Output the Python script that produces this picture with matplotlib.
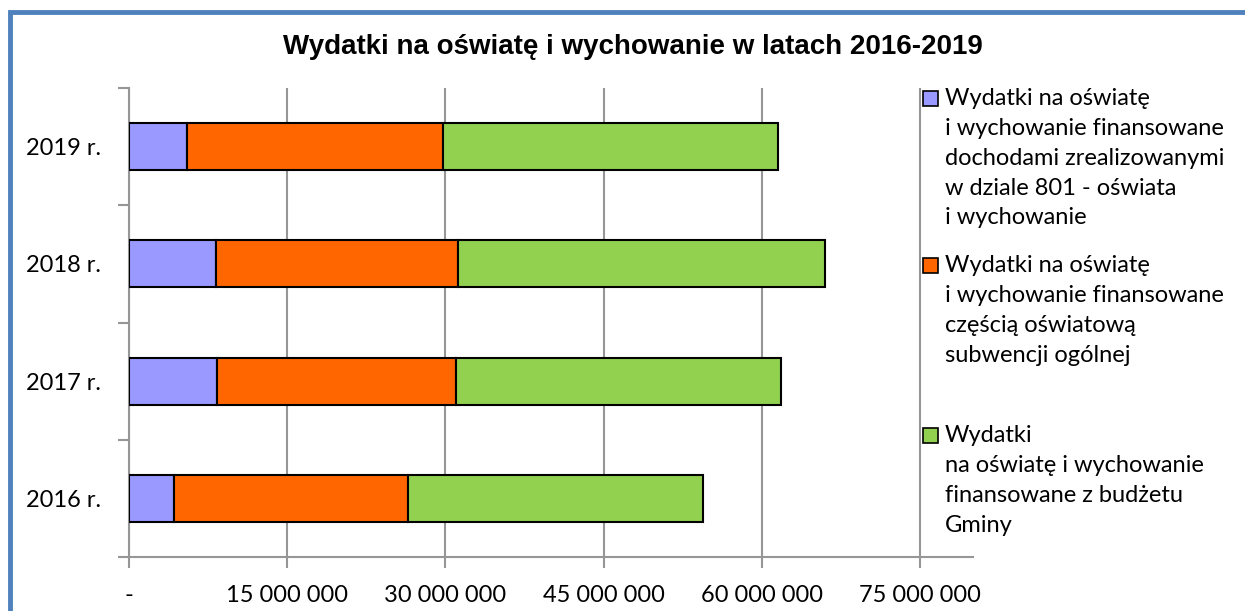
import numpy as np
import matplotlib.pyplot as plt
from matplotlib.patches import Rectangle
from matplotlib.ticker import FuncFormatter

years = ["2016 r.", "2017 r.", "2018 r.", "2019 r."]
dochody_801 = [4.3e6, 8.3e6, 8.2e6, 5.5e6]
subwencja = [22.1e6, 22.7e6, 23.0e6, 24.3e6]
budzet_gminy = [28.0e6, 30.8e6, 34.8e6, 31.7e6]
labels = [
    "Wydatki na oświatę\ni wychowanie finansowane\ndochodami zrealizowanymi\nw dziale 801 - oświata\ni wychowanie",
    "Wydatki na oświatę\ni wychowanie finansowane\nczęścią oświatową\nsubwencji ogólnej",
    "Wydatki\nna oświatę i wychowanie\nfinansowane z budżetu\nGminy",
]
colors = ["#9999FF", "#FF6600", "#92D050"]
ticks = [0, 15e6, 30e6, 45e6, 60e6, 75e6]

FONT = "Lato"
GRAY = "#969696"

fig = plt.figure(figsize=(12.45, 6.11), dpi=100)
ax = fig.add_axes([129 / 1245, 1 - 557 / 611, (973 - 129) / 1245, (557 - 88) / 611])

y = np.arange(len(years))
series = [dochody_801, subwencja, budzet_gminy]
left = np.zeros(len(years))
for vals, c in zip(series, colors):
    ax.barh(y, vals, left=left, height=0.4, color=c, edgecolor="black", linewidth=1.5, zorder=3)
    left += np.array(vals)

ax.set_xlim(0, 80e6)
ax.set_ylim(-0.5, len(years) - 0.5)
ax.set_xticks(ticks)
ax.xaxis.set_major_formatter(FuncFormatter(
    lambda v, p: "-" if v == 0 else f"{int(v):,}".replace(",", " ")))
ax.grid(axis="x", color=GRAY, linewidth=1.5, zorder=0)

ax.set_yticks(np.arange(-0.5, len(years)), labels=[])
ax.set_yticks(y, minor=True)
ax.set_yticklabels(years, minor=True, fontfamily=FONT, fontsize=17)
ax.tick_params(axis="y", which="major", length=8, width=1.5, color=GRAY, direction="out")
ax.tick_params(axis="y", which="minor", length=0, pad=20)
ax.tick_params(axis="x", length=8, width=1.5, color=GRAY, pad=12, labelsize=17)
for t in ax.get_xticklabels():
    t.set_fontfamily(FONT)

for s in ["top", "right"]:
    ax.spines[s].set_visible(False)
for s in ["left", "bottom"]:
    ax.spines[s].set_color(GRAY)
    ax.spines[s].set_linewidth(1.5)

fig.text(633 / 1245, 1 - 47 / 611, "Wydatki na oświatę i wychowanie w latach 2016-2019",
         ha="center", va="center", fontfamily="Liberation Sans", fontweight="bold", fontsize=20)

# legend drawn by hand, multi-line entries (first-line baselines in px)
entry_base = [106, 273, 443]
for lab, c, b in zip(labels, colors, entry_base):
    fig.patches.append(Rectangle((923 / 1245, 1 - b / 611), 15 / 1245, 15 / 611,
                                 transform=fig.transFigure, facecolor=c,
                                 edgecolor="black", linewidth=1.2))
    fig.text(945 / 1245, 1 - (b - 18) / 611, lab, ha="left", va="top",
             fontfamily=FONT, fontsize=17, linespacing=1.52)

# blue frame around the chart (right and bottom edges fall outside the picture)
fig.patches.append(Rectangle((10 / 1245, -0.05), 1.05, 1.05 - 12 / 611,
                             transform=fig.transFigure, fill=False,
                             edgecolor="#4F81BD", linewidth=3.5))

fig.savefig("out.png", dpi=100)
